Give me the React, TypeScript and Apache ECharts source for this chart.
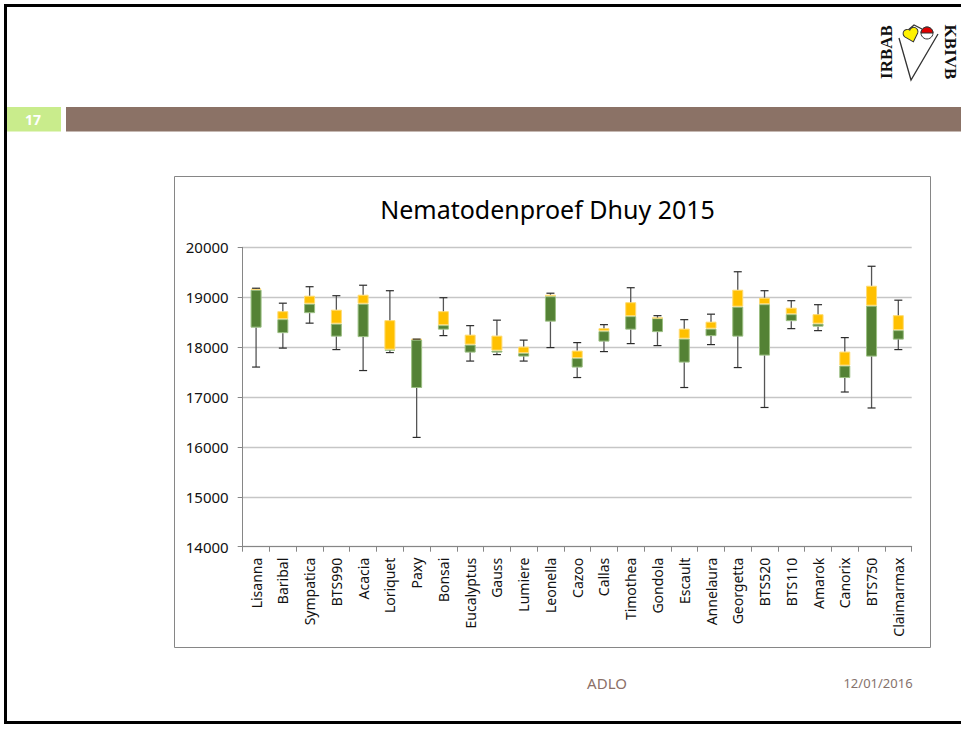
import React, { useEffect, useRef } from "react";
import * as echarts from "echarts";

const categories = [
  "Lisanna", "Baribal", "Sympatica", "BTS990", "Acacia", "Loriquet", "Paxy", "Bonsai",
  "Eucalyptus", "Gauss", "Lumiere", "Leonella", "Cazoo", "Callas", "Timothea", "Gondola",
  "Escault", "Annelaura", "Georgetta", "BTS520", "BTS110", "Amarok", "Canorix", "BTS750", "Claimarmax",
];
const maxVals = [19180, 18880, 19210, 19030, 19240, 19130, 18160, 18990, 18430, 18540, 18140, 19080, 18090, 18450, 19190, 18630, 18550, 18660, 19510, 19130, 18930, 18850, 18190, 19620, 18940];
const q3Vals = [19170, 18720, 19030, 18750, 19050, 18540, 18160, 18720, 18250, 18230, 18010, 19050, 17930, 18380, 18900, 18590, 18370, 18510, 19150, 18990, 18790, 18660, 17910, 19230, 18640];
const medVals = [19150, 18560, 18870, 18470, 18870, 17950, 18150, 18440, 18050, 17930, 17880, 19020, 17780, 18320, 18620, 18580, 18170, 18370, 18810, 18860, 18660, 18470, 17630, 18830, 18340];
const q1Vals = [18390, 18280, 18680, 18210, 18200, 17930, 17180, 18350, 17890, 17890, 17810, 18510, 17590, 18110, 18350, 18300, 17690, 18220, 18210, 17830, 18520, 18410, 17380, 17810, 18150];
const minVals = [17600, 17980, 18480, 17950, 17530, 17890, 16190, 18230, 17720, 17850, 17720, 17990, 17390, 17910, 18070, 18030, 17190, 18050, 17590, 16790, 18370, 18330, 17100, 16780, 17950];

const yMin = 14000;
const yMax = 20000;
const yStep = 1000;
const chartTitle = "Nematodenproef Dhuy 2015";
const slideNumber = "17";
const footerLeft = "ADLO";
const footerDate = "12/01/2016";

const heartPath = "M10 18 L2.5 10 A4.6 4.6 0 0 1 10 4.5 A4.6 4.6 0 0 1 17.5 10 Z";

export default function App() {
  const ref = useRef<HTMLDivElement>(null);
  useEffect(() => {
    if (!ref.current) return;
    try {
      echarts.graphic.registerShape("logo", echarts.graphic.extendPath(heartPath, {}) as any);
    } catch (e) {}
    const chart = echarts.init(ref.current, undefined, { renderer: "svg" });
    const lowerBox = medVals.map((m, i) => m - q1Vals[i]);
    const upperBox = q3Vals.map((q, i) => q - medVals[i]);
    const whiskerData = categories.map((_, i) => [i, minVals[i], q1Vals[i], q3Vals[i], maxVals[i]]);
    const font = "Noto Sans";
    const option: any = {
      animation: false,
      backgroundColor: "#ffffff",
      textStyle: { fontFamily: font },
      grid: { left: 242.7, right: 49.3, top: 247.3, bottom: 184.3, containLabel: false },
      xAxis: {
        type: "category",
        data: categories,
        boundaryGap: true,
        axisLine: { lineStyle: { color: "#868686", width: 1 } },
        axisTick: { show: true, length: 5, interval: 0, lineStyle: { color: "#868686" } },
        axisLabel: { rotate: 90, interval: 0, margin: 11, fontSize: 14, color: "#111", fontFamily: font },
        splitLine: { show: false },
      },
      yAxis: {
        type: "value",
        min: yMin,
        max: yMax,
        interval: yStep,
        axisLine: { show: true, lineStyle: { color: "#868686", width: 1 } },
        axisTick: { show: true, length: 5, lineStyle: { color: "#868686" } },
        axisLabel: { fontSize: 15, margin: 14, color: "#111", fontFamily: font, formatter: (v: number) => String(v) },
        splitLine: { show: true, lineStyle: { color: "#C6C6C6", width: 1.3 } },
      },
      graphic: [
        {
          type: "rect",
          shape: { x: 5.5, y: 5.5, width: 1000, height: 717 },
          style: { fill: "none", stroke: "#000000", lineWidth: 3 },
          silent: true,
        },
        {
          type: "rect",
          shape: { x: 7, y: 107, width: 54, height: 24.5 },
          style: { fill: "#C9EC8C" },
        },
        {
          type: "text",
          x: 33,
          y: 119.5,
          style: { text: slideNumber, fill: "#ffffff", font: "bold 14px 'Noto Sans'", align: "center", verticalAlign: "middle" },
        },
        {
          type: "rect",
          shape: { x: 66, y: 107, width: 900, height: 24.5 },
          style: { fill: "#8B7266" },
        },
        {
          type: "text",
          x: 886.5,
          y: 52,
          rotation: Math.PI / 2,
          style: { text: "IRBAB", fill: "#111", font: "bold 17px 'Liberation Serif'", align: "center", verticalAlign: "middle" },
        },
        {
          type: "text",
          x: 950.5,
          y: 52,
          rotation: -Math.PI / 2,
          style: { text: "KBIVB", fill: "#111", font: "bold 17px 'Liberation Serif'", align: "center", verticalAlign: "middle" },
        },
        {
          type: "polyline",
          shape: { points: [[899, 38], [911, 80], [938, 34]] },
          style: { stroke: "#333", lineWidth: 1.3, fill: "none" },
        },
        {
          type: "polyline",
          shape: { points: [[907, 31], [914, 25], [922, 29]] },
          style: { stroke: "#333", lineWidth: 1.2, fill: "none" },
        },
        {
          type: "logo",
          x: 900,
          y: 29,
          scaleX: 0.9,
          scaleY: 0.9,
          rotation: 0.3,
          style: { fill: "#FFF200", stroke: "#333", lineWidth: 1.1 },
        },
        {
          type: "circle",
          shape: { cx: 927, cy: 33, r: 6 },
          style: { fill: "#ffffff", stroke: "#333", lineWidth: 1 },
        },
        {
          type: "sector",
          shape: { cx: 927, cy: 33, r: 6, r0: 0, startAngle: Math.PI, endAngle: Math.PI * 2, clockwise: true },
          style: { fill: "#E00000", stroke: "#333", lineWidth: 1 },
        },
        {
          type: "rect",
          shape: { x: 174.5, y: 176.5, width: 756, height: 471 },
          style: { fill: "none", stroke: "#868686", lineWidth: 1 },
          silent: true,
        },
        {
          type: "text",
          x: 547.5,
          y: 209,
          style: { text: chartTitle, fill: "#000000", font: "25px 'Noto Sans'", align: "center", verticalAlign: "middle" },
        },
        {
          type: "text",
          x: 607,
          y: 683,
          style: { text: footerLeft, fill: "#8C7068", font: "15px 'Noto Sans'", align: "center", verticalAlign: "middle" },
        },
        {
          type: "text",
          x: 878,
          y: 683,
          style: { text: footerDate, fill: "#85726C", font: "13px 'Noto Sans'", align: "center", verticalAlign: "middle" },
        },
      ],
      series: [
        {
          name: "base",
          type: "bar",
          stack: "box",
          barWidth: 11,
          data: q1Vals,
          itemStyle: { color: "transparent" },
          silent: true,
        },
        {
          name: "lower",
          type: "bar",
          stack: "box",
          barWidth: 11,
          data: lowerBox,
          itemStyle: { color: "#548235", borderColor: "#9CBF83", borderWidth: 1 },
        },
        {
          name: "upper",
          type: "bar",
          stack: "box",
          barWidth: 11,
          data: upperBox,
          itemStyle: { color: "#FFC000", borderColor: "#FFDC73", borderWidth: 1 },
        },
        {
          name: "whiskers",
          type: "custom",
          data: whiskerData,
          encode: { x: 0, y: [1, 2, 3, 4] },
          z: 5,
          renderItem: (params: any, api: any) => {
            const idx = api.value(0);
            const pMin = api.coord([idx, api.value(1)]);
            const pQ1 = api.coord([idx, api.value(2)]);
            const pQ3 = api.coord([idx, api.value(3)]);
            const pMax = api.coord([idx, api.value(4)]);
            const hw = 4;
            const st = { stroke: "#2b2b2b", lineWidth: 1.2 };
            return {
              type: "group",
              children: [
                { type: "line", shape: { x1: pMin[0], y1: pMin[1], x2: pQ1[0], y2: pQ1[1] }, style: { stroke: "#555", lineWidth: 1.3 } },
                { type: "line", shape: { x1: pQ3[0], y1: pQ3[1], x2: pMax[0], y2: pMax[1] }, style: { stroke: "#555", lineWidth: 1.3 } },
                { type: "line", shape: { x1: pMin[0] - hw, y1: pMin[1], x2: pMin[0] + hw, y2: pMin[1] }, style: st },
                { type: "line", shape: { x1: pMax[0] - hw, y1: pMax[1], x2: pMax[0] + hw, y2: pMax[1] }, style: st },
              ],
            };
          },
        },
      ],
    };
    chart.setOption(option);
    return () => chart.dispose();
  }, []);
  return (
    <div
      ref={ref}
      style={{ position: "fixed", left: 0, top: 0, width: 961, height: 731, background: "#ffffff" }}
    />
  );
}
